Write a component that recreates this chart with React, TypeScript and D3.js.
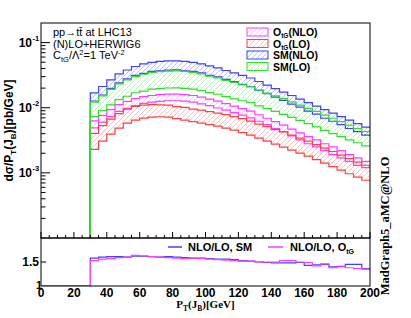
import * as d3 from "d3";

const binLow = d3.range(30, 200, 5); // 5 GeV bins, 30..200
const ratioBinLow = d3.range(0, 200, 5);

// SM (NLO) scale band
const smNloUp = [0.0169, 0.0212, 0.0267, 0.0330, 0.0380, 0.0430, 0.0470, 0.0496, 0.0514, 0.0523, 0.0523, 0.0514, 0.0496, 0.0470, 0.0438, 0.0408, 0.0373, 0.0342, 0.0313, 0.0286, 0.0253, 0.0223, 0.0197, 0.0174, 0.0154, 0.0136, 0.0120, 0.0106, 0.00938, 0.00829, 0.00732, 0.00647, 0.00571, 0.00505];
const smNloLo = [0.0127, 0.0157, 0.0198, 0.0241, 0.0277, 0.0314, 0.0338, 0.0362, 0.0370, 0.0377, 0.0382, 0.0370, 0.0362, 0.0343, 0.0315, 0.0298, 0.0272, 0.0253, 0.0228, 0.0212, 0.0185, 0.0165, 0.0146, 0.0130, 0.0114, 0.0102, 0.0089, 0.0080, 0.0069, 0.0062, 0.0055, 0.0048, 0.0043, 0.0038];
// SM (LO)
const smLoUp = [0.0122, 0.0152, 0.0191, 0.0233, 0.0268, 0.0303, 0.0327, 0.0350, 0.0358, 0.0366, 0.0368, 0.0360, 0.0350, 0.0332, 0.0306, 0.0288, 0.0264, 0.0245, 0.0224, 0.0209, 0.0186, 0.0168, 0.0152, 0.0138, 0.0123, 0.0110, 0.0098, 0.0088, 0.0077, 0.0069, 0.0061, 0.0054, 0.0048, 0.0043];
const smLoLo = [0.0073, 0.0090, 0.0111, 0.0133, 0.0150, 0.0170, 0.0180, 0.0193, 0.0197, 0.0201, 0.0202, 0.0198, 0.0193, 0.0183, 0.0171, 0.0161, 0.0148, 0.0137, 0.0128, 0.0120, 0.0107, 0.0097, 0.0088, 0.0079, 0.0071, 0.0064, 0.0057, 0.0051, 0.0045, 0.0040, 0.0036, 0.0032, 0.0029, 0.0026];
// O_tG (NLO)
const otgNloUp = [0.00627, 0.00763, 0.00935, 0.0112, 0.0125, 0.0138, 0.0148, 0.0154, 0.0159, 0.0162, 0.0162, 0.0159, 0.0154, 0.0146, 0.0136, 0.0126, 0.0116, 0.0106, 0.0097, 0.0089, 0.0078, 0.0069, 0.0061, 0.0054, 0.0047, 0.0041, 0.0036, 0.0032, 0.0028, 0.0025, 0.0022, 0.0019, 0.0017, 0.0015];
const otgNloLo = [0.0049, 0.0060, 0.0073, 0.0088, 0.0098, 0.0108, 0.0117, 0.0122, 0.0125, 0.0128, 0.0128, 0.0126, 0.0122, 0.0115, 0.0108, 0.0099, 0.0092, 0.0084, 0.0077, 0.0070, 0.0062, 0.0055, 0.0048, 0.0043, 0.0037, 0.0032, 0.0028, 0.0025, 0.0022, 0.0019, 0.0017, 0.0015, 0.0013, 0.0012];
// O_tG (LO)
const otgLoUp = [0.00404, 0.00531, 0.00670, 0.00814, 0.00954, 0.01044, 0.0110, 0.0112, 0.0111, 0.0110, 0.0104, 0.0101, 0.00954, 0.00921, 0.00873, 0.00829, 0.00786, 0.00732, 0.00681, 0.00624, 0.00562, 0.00513, 0.00461, 0.00424, 0.00379, 0.00342, 0.00308, 0.00272, 0.00240, 0.00213, 0.00187, 0.00165, 0.00146, 0.00131];
const otgLoLo = [0.00229, 0.00307, 0.00394, 0.00487, 0.00581, 0.00647, 0.00694, 0.00719, 0.00727, 0.00719, 0.00682, 0.00647, 0.00613, 0.00581, 0.00551, 0.00523, 0.00487, 0.00454, 0.00415, 0.00380, 0.00342, 0.00307, 0.00276, 0.00249, 0.00223, 0.00201, 0.00181, 0.00160, 0.00141, 0.00125, 0.00110, 0.00097, 0.00086, 0.00077];

// NLO/LO ratios, bins from 0 GeV
const ratioSM = [1, 1, 1, 1, 1, 1, 1.58, 1.60, 1.61, 1.61, 1.60, 1.62, 1.62, 1.61, 1.60, 1.61, 1.60, 1.59, 1.58, 1.58, 1.57, 1.56, 1.56, 1.55, 1.53, 1.52, 1.50, 1.49, 1.48, 1.48, 1.48, 1.49, 1.43, 1.44, 1.45, 1.40, 1.41, 1.45, 1.45, 1.36];
const ratioOtG = [1, 1, 1, 1, 1, 1, 1.53, 1.56, 1.57, 1.59, 1.60, 1.64, 1.63, 1.61, 1.60, 1.59, 1.58, 1.57, 1.58, 1.57, 1.56, 1.55, 1.54, 1.53, 1.52, 1.52, 1.50, 1.50, 1.50, 1.53, 1.53, 1.50, 1.49, 1.42, 1.46, 1.38, 1.40, 1.38, 1.36, 1.35];

const xTicks = [0, 20, 40, 60, 80, 100, 120, 140, 160, 180, 200];
const yDecades = [1e-1, 1e-2, 1e-3];
const yDecadeLabels = ["-1", "-2", "-3"];

const series = [
  { key: "otgNlo", up: otgNloUp, lo: otgNloLo, line: "#ff3cff", hatch: "#ffa6ff", label: "O", sub: "tG", tail: "(NLO)" },
  { key: "otgLo", up: otgLoUp, lo: otgLoLo, line: "#ff4040", hatch: "#ffa0a0", label: "O", sub: "tG", tail: "(LO)" },
  { key: "smNlo", up: smNloUp, lo: smNloLo, line: "#4040ff", hatch: "#a4a4ff", label: "SM(NLO)", sub: "", tail: "" },
  { key: "smLo", up: smLoUp, lo: smLoLo, line: "#2ee02e", hatch: "#9af09a", label: "SM(LO)", sub: "", tail: "" },
];

const SANS = "'Liberation Sans', Arial, Helvetica, sans-serif";
const SERIF = "'Liberation Serif', 'Times New Roman', serif";

export default function App() {
  const x = d3.scaleLinear().domain([0, 200]).range([41, 370]);
  const y = d3.scaleLog().domain([1e-4, 0.2]).range([238, 23]);
  const yr = d3.scaleLinear().domain([1, 2]).range([286, 238]);
  const [x0, x1] = x.range();
  const [yb, yt] = y.range();

  const stepLine = d3.line<[number, number]>().x(d => x(d[0])).y(d => y(d[1])).curve(d3.curveStepAfter);
  const histPath = (vals: number[]) => {
    const pts: [number, number][] = [[binLow[0], y.domain()[0]]];
    vals.forEach((v, i) => pts.push([binLow[i], v]));
    pts.push([200, vals[vals.length - 1]]);
    return stepLine(pts) || "";
  };
  const bandArea = d3.area<[number, number, number]>()
    .x(d => x(d[0])).y0(d => y(d[1])).y1(d => y(d[2])).curve(d3.curveStepAfter);
  const bandPath = (lo: number[], up: number[]) => {
    const pts: [number, number, number][] = lo.map((v, i) => [binLow[i], v, up[i]]);
    pts.push([200, lo[lo.length - 1], up[up.length - 1]]);
    return bandArea(pts) || "";
  };
  const ratioLine = d3.line<[number, number]>().x(d => x(d[0])).y(d => yr(d[1])).curve(d3.curveStepAfter);
  const ratioPath = (vals: number[]) => {
    const pts: [number, number][] = vals.map((v, i) => [ratioBinLow[i], v]);
    pts.push([200, vals[vals.length - 1]]);
    return ratioLine(pts) || "";
  };

  const minorY: number[] = [];
  [-4, -3, -2, -1].forEach(e => {
    for (let k = 2; k <= 9; k++) {
      const v = k * Math.pow(10, e);
      if (v > y.domain()[0] && v < y.domain()[1]) minorY.push(v);
    }
  });
  const minorX = d3.range(0, 201, 5);

  return (
    <svg width={411} height={318} style={{ position: "absolute", left: 0, top: 0, background: "#fff" }}>
      <defs>
        {series.map(s => (
          <pattern key={s.key} id={`hatch-${s.key}`} patternUnits="userSpaceOnUse" width={5} height={5}>
            <path d="M-1,1 L1,-1 M0,5 L5,0 M4,6 L6,4" fill="none" stroke={s.hatch} strokeWidth={0.7} />
          </pattern>
        ))}
        <clipPath id="mainClip">
          <rect x={x0} y={yt} width={x1 - x0} height={yb - yt} />
        </clipPath>
        <clipPath id="ratioClip">
          <rect x={x0} y={yr(2)} width={x1 - x0} height={yr(1) - yr(2)} />
        </clipPath>
      </defs>

      {/* main panel */}
      <g clipPath="url(#mainClip)">
        {series.map(s => (
          <path key={`f-${s.key}`} d={bandPath(s.lo, s.up)} fill={`url(#hatch-${s.key})`} stroke="none" />
        ))}
        {series.map(s => (
          <g key={`l-${s.key}`}>
            <path d={histPath(s.up)} fill="none" stroke={s.line} strokeWidth={1.2} />
            <path d={histPath(s.lo)} fill="none" stroke={s.line} strokeWidth={1.2} />
          </g>
        ))}
      </g>
      <rect x={x0} y={yt} width={x1 - x0} height={yb - yt} fill="none" stroke="#000" strokeWidth={1} />

      {/* y axis ticks main */}
      {yDecades.map((v, i) => (
        <g key={`yd-${i}`}>
          <line x1={x0} x2={x0 + 9} y1={y(v)} y2={y(v)} stroke="#000" />
          <text x={32} y={y(v) + 4.5} textAnchor="end" fontFamily={SANS} fontWeight="bold" fontSize={12}>10</text>
          <text x={32.5} y={y(v) - 1.5} fontFamily={SANS} fontWeight="bold" fontSize={7.5}>{yDecadeLabels[i]}</text>
        </g>
      ))}
      {minorY.map((v, i) => (
        <line key={`ym-${i}`} x1={x0} x2={x0 + 4.5} y1={y(v)} y2={y(v)} stroke="#000" />
      ))}
      {minorX.map((v, i) => (
        <line key={`xm-${i}`} x1={x(v)} x2={x(v)} y1={yb} y2={yb - (v % 20 === 0 ? 6 : 3)} stroke="#000" />
      ))}

      {/* annotations */}
      <text x={53} y={36} fontFamily={SANS} fontSize={11}>pp→tt̄ at LHC13</text>
      <text x={53} y={47.5} fontFamily={SANS} fontSize={11}>(N)LO+HERWIG6</text>
      <text x={53} y={59} fontFamily={SANS} fontSize={11}>
        C<tspan fontSize={7.5} dy={2.5}>tG</tspan><tspan dy={-2.5}>/Λ</tspan><tspan fontSize={7.5} dy={-4}>2</tspan><tspan dy={4}>=1 TeV</tspan><tspan fontSize={7.5} dy={-4}>-2</tspan>
      </text>

      {/* legend */}
      {series.map((s, i) => {
        const cy = 32 + i * 11.5;
        return (
          <g key={`lg-${s.key}`}>
            <rect x={247} y={cy - 4} width={21} height={8} fill={`url(#hatch-${s.key})`} stroke={s.line} strokeWidth={1} />
            <text x={273} y={cy + 4} fontFamily={SANS} fontWeight="bold" fontSize={10.5}>
              {s.label}
              {s.sub && <tspan fontSize={6.5} dy={2}>{s.sub}</tspan>}
              {s.tail && <tspan dy={-2}>{s.tail}</tspan>}
            </text>
          </g>
        );
      })}

      {/* y title */}
      <text transform={`translate(13,${(yt + yb) / 2}) rotate(-90)`} textAnchor="middle" fontFamily={SANS} fontWeight="bold" fontSize={12}>
        dσ/P<tspan fontSize={8} dy={2.5}>T</tspan><tspan dy={-2.5}>(J</tspan><tspan fontSize={8} dy={2.5}>B</tspan><tspan dy={-2.5}>)[pb/GeV]</tspan>
      </text>

      {/* ratio panel */}
      <g clipPath="url(#ratioClip)">
        <path d={ratioPath(ratioSM)} fill="none" stroke="#4040ff" strokeWidth={1.2} />
        <path d={ratioPath(ratioOtG)} fill="none" stroke="#ff3cff" strokeWidth={1.2} />
      </g>
      <rect x={x0} y={yr(2)} width={x1 - x0} height={yr(1) - yr(2)} fill="none" stroke="#000" strokeWidth={1} />
      <line x1={x0} x2={x0 + 5} y1={yr(1.5)} y2={yr(1.5)} stroke="#000" />
      <text x={39} y={yr(1.5) + 4} textAnchor="end" fontFamily={SANS} fontWeight="bold" fontSize={12}>1.5</text>
      <text x={42} y={yr(1) + 2.5} textAnchor="end" fontFamily={SANS} fontWeight="bold" fontSize={11}>1</text>

      {/* ratio legend */}
      <line x1={168} x2={182} y1={247} y2={247} stroke="#4040ff" strokeWidth={1.5} />
      <text x={188} y={251} fontFamily={SANS} fontWeight="bold" fontSize={11}>NLO/LO, SM</text>
      <line x1={268} x2={283} y1={247} y2={247} stroke="#ff3cff" strokeWidth={1.5} />
      <text x={290} y={251} fontFamily={SANS} fontWeight="bold" fontSize={11}>
        NLO/LO, O<tspan fontSize={7} dy={2.5}>tG</tspan>
      </text>

      {/* x tick labels */}
      {xTicks.map(v => (
        <text key={`xt-${v}`} x={x(v)} y={296.5} textAnchor="middle" fontFamily={SANS} fontWeight="bold" fontSize={12}>{v}</text>
      ))}
      <text x={(x0 + x1) / 2} y={308} textAnchor="middle" fontFamily={SERIF} fontWeight="bold" fontSize={11}>
        P<tspan fontSize={7.5} dy={2.5}>T</tspan><tspan dy={-2.5}>(J</tspan><tspan fontSize={7.5} dy={2.5}>B</tspan><tspan dy={-2.5}>)[GeV]</tspan>
      </text>

      <text transform="translate(389,226) rotate(-90)" textAnchor="middle" fontFamily={SERIF} fontWeight="bold" fontSize={12.5}>MadGraph5_aMC@NLO</text>
    </svg>
  );
}
